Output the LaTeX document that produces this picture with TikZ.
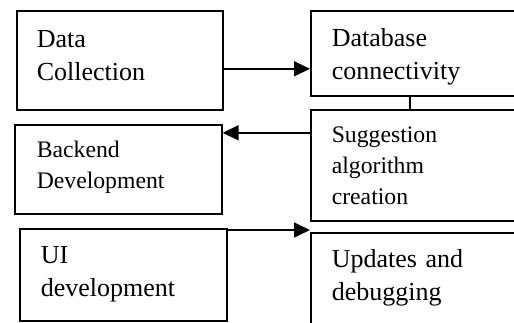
\documentclass[tikz,border=0pt]{standalone}
\usepackage{fontspec}
\setmainfont{Liberation Serif}
\usetikzlibrary{arrows.meta}

\begin{document}
\begin{tikzpicture}[x=1pt,y=-1pt,
    box/.style={draw,line width=1.6pt,anchor=north west,align=left,inner ysep=0pt},
    bigtxt/.style={font=\fontsize{26}{33}\selectfont,text height=18pt},
    smalltxt/.style={font=\fontsize{23.7}{31}\selectfont,text height=17pt},
    arr/.style={line width=1.6pt,-{Triangle[length=16pt,width=15pt]}}]
  \useasboundingbox (0,0) rectangle (514,322);
  \clip (0,0) rectangle (514,322);
  \node[box,bigtxt,text depth=43pt,inner xsep=20pt,text width=166pt,minimum height=99pt] (datacoll) at (16,10)
    {Data\\Collection};
  \node[box,bigtxt,text depth=31pt,inner xsep=21pt,text width=178pt,minimum height=85pt] (dbconn) at (310,10)
    {Database\\connectivity};
  \node[box,smalltxt,text depth=62pt,inner xsep=21pt,text width=178pt,minimum height=111pt] (suggalg) at (310,109)
    {Suggestion\\algorithm\\creation};
  \node[box,smalltxt,text depth=40pt,inner xsep=22pt,text width=163pt,minimum height=89pt] (backend) at (14,124)
    {Backend\\Development};
  \node[box,bigtxt,text depth=40pt,inner xsep=21pt,text width=165pt,minimum height=92pt] (uidev) at (19,228)
    {UI\\development};
  \node[box,bigtxt,text depth=42pt,inner xsep=21pt,text width=178pt,minimum height=94pt] (updates) at (310,232)
    {Updates and\\debugging};
  \draw[arr] ([yshift=-8.5pt]datacoll.east) -- ([yshift=-8.5pt]datacoll.east -| dbconn.west);
  \draw[line width=1.6pt] ([xshift=-11pt]dbconn.south) -- ([xshift=-11pt]dbconn.south |- suggalg.north);
  \draw[arr] ([yshift=32.5pt]suggalg.west) -- ([yshift=32.5pt]suggalg.west -| backend.east);
  \draw[arr] ([yshift=-2pt]uidev.north east) -- ([yshift=2pt]updates.north west);
\end{tikzpicture}
\end{document}
